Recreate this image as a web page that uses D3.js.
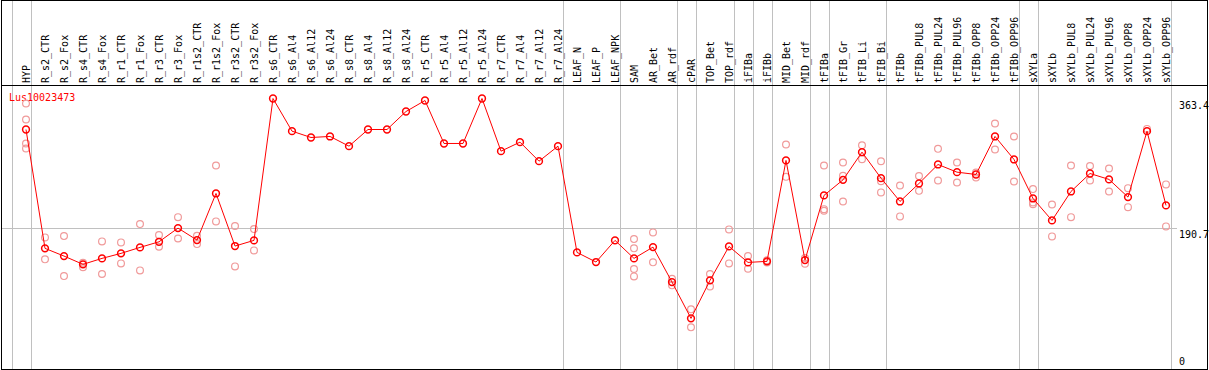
<!DOCTYPE html>
<html>
<head>
<meta charset="utf-8">
<script src="https://cdn.jsdelivr.net/npm/d3@7"></script>
<style>
  html, body { margin: 0; padding: 0; background: #fff; }
  svg { display: block; }
  text { font-family: "DejaVu Sans Mono", monospace; font-size: 10px; }
</style>
</head>
<body>
<svg id="chart" width="1209" height="370"></svg>
<script>
const title = "Lus10023473";
const categories = ["HYP","R_s2_CTR","R_s2_Fox","R_s4_CTR","R_s4_Fox","R_r1_CTR","R_r1_Fox","R_r3_CTR","R_r3_Fox",
  "R_r1s2_CTR","R_r1s2_Fox","R_r3s2_CTR","R_r3s2_Fox","R_s6_CTR","R_s6_Al4","R_s6_Al12","R_s6_Al24",
  "R_s8_CTR","R_s8_Al4","R_s8_Al12","R_s8_Al24","R_r5_CTR","R_r5_Al4","R_r5_Al12","R_r5_Al24",
  "R_r7_CTR","R_r7_Al4","R_r7_Al12","R_r7_Al24","LEAF_N","LEAF_P","LEAF_NPK","SAM","AR_Bet","AR_rdf",
  "cPAR","TOP_Bet","TOP_rdf","iFIBa","iFIBb","MID_Bet","MID_rdf","tFIBa","tFIB_Gr","tFIB_Li","tFIB_Bi",
  "tFIBb","tFIBb_PUL8","tFIBb_PUL24","tFIBb_PUL96","tFIBb_OPP8","tFIBb_OPP24","tFIBb_OPP96",
  "sXYLa","sXYLb","sXYLb_PUL8","sXYLb_PUL24","sXYLb_PUL96","sXYLb_OPP8","sXYLb_OPP24","sXYLb_OPP96"];
const means = [321.9,162.8,152.5,141.4,149.4,156.1,164.1,171.6,189.9,
  173.9,236.3,165.9,173.5,363.4,319.7,311.2,312.6,
  299.6,321.9,321.9,346.0,360.7,303.2,303.2,363.4,
  292.9,305.0,279.5,299.6,157.4,144.5,173.5,149.4,164.5,117.7,
  69.1,120.0,165.4,144.0,145.4,280.5,147.1,233.7,254.5,291.6,256.8,
  225.6,249.7,275.1,264.8,261.7,312.6,281.8,
  229.6,200.2,239.0,263.0,255.1,231.4,319.7,220.3];
const replicates = [[356.7,335.3,303.2,296.5],[177.5,148.1],[179.2,125.7],[143.5,137.5],[172.1,128.4],
  [170.8,142.7],[195.3,133.3],[180.6,164.9],[204.6,176.1],[179.6,168.5],[273.8,198.9],[192.6,138.7],[188.6,160.1],
  [],[],[],[],[],[],[],[],[],[],[],[],[],[],[],[],
  [],[],[],[175.2,162.8,135.1,125.3],[184.2,144.1],[122.1,113.3],[81.2,57.1],[128.4,111.9],[188.2,142.7],
  [152.5,135.5],[147,144],[301.9,258.5],[149.8,142.2],[273.8,215.3,213.1],[277.8,259.9,225.6],[300.9,282.2],
  [279.5,252.8,237.7],[247.0,205.6],[259.5,239.8],[296.0,253.7],[277.8,251.0],[264.4,257.7],[329.9,295.2],
  [312.6,252.4],[242.1,224.3,222.0],[221.6,178.8],[273.8,204.6],[272.9,253.7],[269.8,239.0],[243.4,218.0],
  [322.7],[248.4,192.2]];
const separatorsAfter = [-1,0,28,31,34,35,37,38,39,41,42,45,52,53,60];
const yTickValues = [0, 190.7, 363.4];
const yGridValues = [190.7];

const svg = d3.select("#chart");
const W = 1209, H = 370;
const x = d3.scalePoint().domain(categories).range([26, 1166]);
const step = x.step();
const y = d3.scaleLinear().domain([0, 363.4]).range([370, 98.5]);

const gridColor = "#c0c0c0";
// vertical separators
svg.append("g").selectAll("line").data(separatorsAfter).join("line")
  .attr("x1", d => Math.round(x(categories[0]) + d * step + 4.7) + 0.5)
  .attr("x2", d => Math.round(x(categories[0]) + d * step + 4.7) + 0.5)
  .attr("y1", 0).attr("y2", 369)
  .attr("stroke", gridColor).attr("stroke-width", 1);
// horizontal grid
svg.append("g").selectAll("line").data(yGridValues).join("line")
  .attr("x1", 1).attr("x2", 1177)
  .attr("y1", d => Math.round(y(d)) + 0.5).attr("y2", d => Math.round(y(d)) + 0.5)
  .attr("stroke", gridColor).attr("stroke-width", 1);

// frame
svg.append("rect").attr("x", 1.5).attr("y", 0.5).attr("width", 1206).attr("height", 369)
  .attr("fill", "none").attr("stroke", "#000").attr("stroke-width", 1);
svg.append("line").attr("x1", 1).attr("x2", 1208).attr("y1", 85.5).attr("y2", 85.5)
  .attr("stroke", "#000").attr("stroke-width", 1);

// category labels
svg.append("g").selectAll("text").data(categories).join("text")
  .attr("transform", d => `translate(${x(d) + 4},83) rotate(-90)`)
  .attr("text-anchor", "start")
  .attr("fill", "#000")
  .text(d => d);

// y tick labels
svg.append("g").selectAll("text").data(yTickValues).join("text")
  .attr("x", 1179)
  .attr("y", d => Math.min(y(d) + 3, 358))
  .attr("dominant-baseline", "hanging")
  .attr("fill", "#000")
  .text(d => d === 0 ? "0" : d3.format(".1f")(d));

// title
svg.append("text").attr("x", 9).attr("y", 100.5).attr("fill", "#ff0000").text(title);

// replicate points
const repData = [];
replicates.forEach((arr, i) => arr.forEach(v => repData.push({c: categories[i], v})));
svg.append("g").selectAll("circle").data(repData).join("circle")
  .attr("cx", d => x(d.c)).attr("cy", d => y(d.v)).attr("r", 3.4)
  .attr("fill", "none").attr("stroke", "#f09a9a").attr("stroke-width", 1.2);

// mean line
const line = d3.line().x((d, i) => x(categories[i])).y(d => y(d));
svg.append("path").datum(means).attr("d", line)
  .attr("fill", "none").attr("stroke", "#ff0000").attr("stroke-width", 1);

// mean points
svg.append("g").selectAll("circle").data(means).join("circle")
  .attr("cx", (d, i) => x(categories[i])).attr("cy", d => y(d)).attr("r", 3.4)
  .attr("fill", "none").attr("stroke", "#ff0000").attr("stroke-width", 1.5);
</script>
</body>
</html>
